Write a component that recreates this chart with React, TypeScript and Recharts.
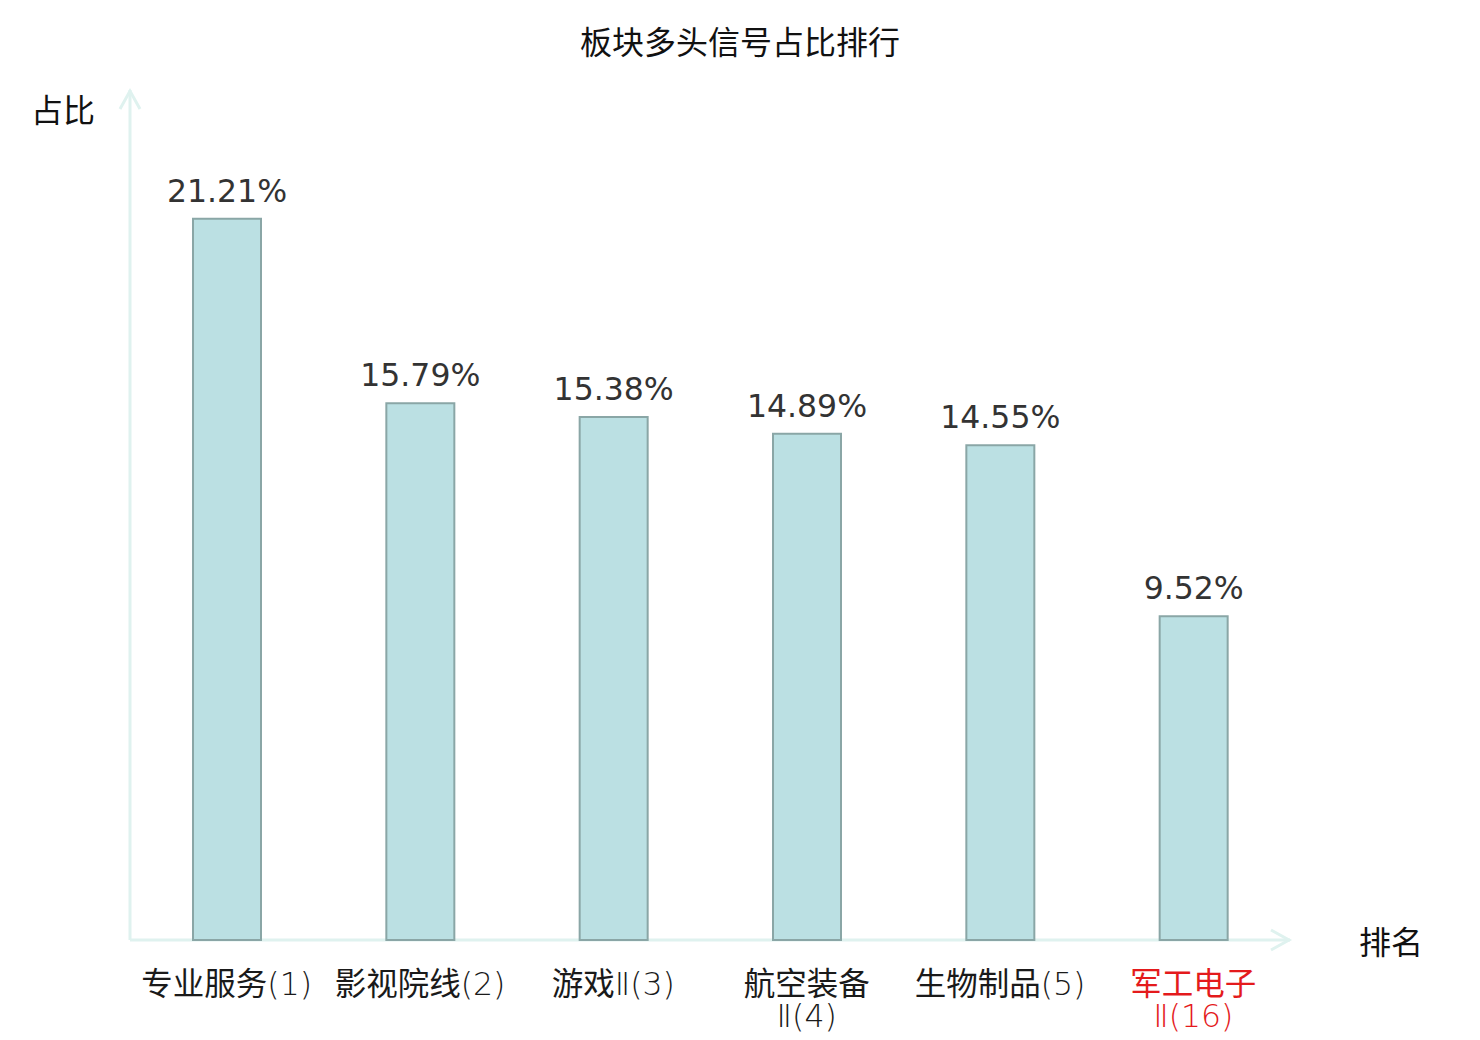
import { BarChart, Bar, XAxis, YAxis, LabelList, usePlotArea } from 'recharts'

const categories = ['专业服务(1)', '影视院线(2)', '游戏Ⅱ(3)', '航空装备\nⅡ(4)', '生物制品(5)', '军工电子\nⅡ(16)']
const shares = [21.21, 15.79, 15.38, 14.89, 14.55, 9.52]
const highlighted = ['军工电子\nⅡ(16)']
const yDomain = [0, 25]

const data = categories.map((name, i) => ({ name, share: shares[i] }))

const CJK = '"Noto Sans CJK SC", "DejaVu Sans", sans-serif'
const LATIN = '"DejaVu Sans", "Noto Sans CJK SC", sans-serif'
const AXIS = '#dff2ef'

// Chinese runs in regular CJK, the rest in thin DejaVu like the original
const runs = (line: string) => line.match(/[\u4e00-\u9fff]+|[^\u4e00-\u9fff]+/g) || []

const renderTick = ({ x, y, payload }: any) => {
  const lines = String(payload.value).split('\n')
  const red = highlighted.includes(payload.value)
  return (
    <g>
      {lines.map((line, i) => (
        <text
          key={i}
          x={x}
          y={y + 47 + i * 32}
          textAnchor="middle"
          fontSize={31.5}
          fill={red ? '#e41a1c' : '#1a1a1a'}
        >
          {runs(line).map((r, j) =>
            /[\u4e00-\u9fff]/.test(r) ? (
              <tspan key={j} fontFamily={CJK} fontWeight={400}>{r}</tspan>
            ) : (
              <tspan key={j} fontFamily={LATIN} fontWeight={200}>{r}</tspan>
            )
          )}
        </text>
      ))}
    </g>
  )
}

const renderValue = (props: any) => {
  const { x, y, width, value } = props
  return (
    <text
      x={x + width / 2}
      y={y - 17}
      textAnchor="middle"
      fontFamily={LATIN}
      fontSize={31.5}
      fill="#333333"
    >
      {value}%
    </text>
  )
}

// axis lines with open arrow heads, plus the titles
const Decorations = () => {
  const area = usePlotArea()
  if (!area) return null
  const { x, y, width, height } = area
  const bottom = y + height
  const right = x + width
  return (
    <g>
      <line x1={x} y1={bottom} x2={x} y2={y} stroke={AXIS} strokeWidth={3} />
      <polyline points={`${x - 10},${y + 19} ${x},${y + 1} ${x + 10},${y + 19}`} fill="none" stroke={AXIS} strokeWidth={3} />
      <line x1={x} y1={bottom} x2={right} y2={bottom} stroke={AXIS} strokeWidth={3} />
      <polyline points={`${right - 19},${bottom - 10} ${right - 1},${bottom} ${right - 19},${bottom + 10}`} fill="none" stroke={AXIS} strokeWidth={3} />
      <text x={732} y={32} textAnchor="middle" dominantBaseline="central" fontFamily={CJK} fontSize={32} fill="#111">
        板块多头信号占比排行
      </text>
      <text x={55} y={100} textAnchor="middle" dominantBaseline="central" fontFamily={CJK} fontSize={32} fill="#111">
        占比
      </text>
      <text x={1383} y={932} textAnchor="middle" dominantBaseline="central" fontFamily={CJK} fontSize={32} fill="#111">
        排名
      </text>
    </g>
  )
}

export default function App() {
  return (
    <BarChart
      width={1464}
      height={1030}
      data={data}
      margin={{ top: 82, right: 182, bottom: 0, left: 122 }}
      style={{ fontFamily: CJK }}
    >
      <XAxis
        dataKey="name"
        axisLine={false}
        tickLine={false}
        interval={0}
        height={98}
        tick={renderTick}
      />
      <YAxis hide domain={yDomain} />
      <Bar dataKey="share" fill="#bbe0e3" stroke="#8aa6a6" strokeWidth={2} barSize={68} isAnimationActive={false}>
        <LabelList dataKey="share" content={renderValue} />
      </Bar>
      <Decorations />
    </BarChart>
  )
}
